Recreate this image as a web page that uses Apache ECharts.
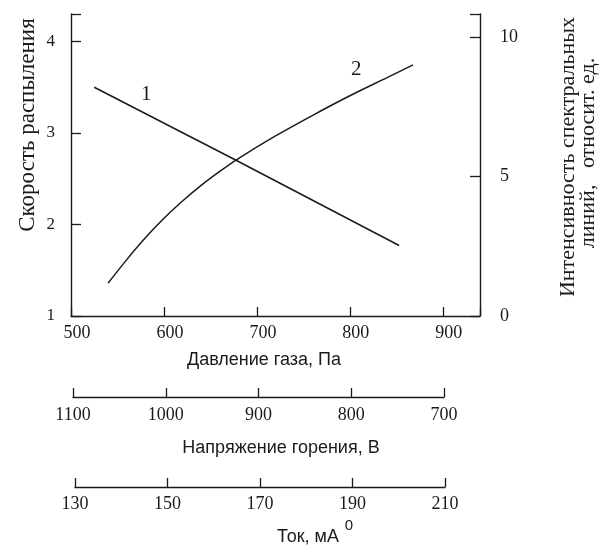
<!DOCTYPE html>
<html><head><meta charset="utf-8">
<script src="https://cdn.jsdelivr.net/npm/echarts@6/dist/echarts.min.js"></script>
<style>html,body{margin:0;padding:0;background:#fff}#c{width:605px;height:547px}</style>
</head><body><div id="c"></div>
<script>
// Curve 1: pressure (Pa) vs sputtering rate (left axis)
const curve1X = [525, 676, 853];
const curve1Y = [3.50, 2.71, 1.77];
// Curve 2: pressure (Pa) vs spectral line intensity (right axis)
const curve2X = [540, 560, 580, 600, 620, 640, 660, 680, 720, 760, 800, 840, 868];
const curve2Y = [1.18, 2.02, 2.80, 3.50, 4.12, 4.68, 5.18, 5.64, 6.45, 7.19, 7.89, 8.54, 9.0];
const pressureTicks = [500, 600, 700, 800, 900];
const voltageTicks = [1100, 1000, 900, 800, 700];
const currentTicks = [130, 150, 170, 190, 210];
const leftTicks = [1, 2, 3, 4];
const rightTicks = [0, 5, 10];

const serif = '"Liberation Serif", "DejaVu Serif", serif';
const sans = '"Liberation Sans", Arial, sans-serif';
const ink = '#1a1a1a';

const chart = echarts.init(document.getElementById('c'), null, {renderer: 'canvas'});
const axisLine = {show: true, lineStyle: {color: ink, width: 1.4}};
const tick = (len) => ({show: true, inside: true, length: len, lineStyle: {color: ink, width: 1.3}});
const lbl = (size, extra) => Object.assign({color: ink, fontFamily: serif, fontSize: size}, extra);

const option = {
  backgroundColor: '#fff',
  animation: false,
  grid: [
    {left: 71, right: 125, top: 14, bottom: 231},
    {left: 73, width: 371, top: 387, height: 10},
    {left: 75, width: 370, top: 477, height: 10}
  ],
  xAxis: [
    {gridIndex: 0, type: 'value', min: pressureTicks[0], max: 940, interval: 100,
     axisLine: axisLine, axisTick: tick(9), splitLine: {show: false},
     axisLabel: lbl(18, {margin: 8, padding: [0, 0, 0, 12], formatter: v => pressureTicks.includes(v) ? String(v) : ''})},
    {gridIndex: 1, type: 'value', inverse: true, min: voltageTicks[4], max: voltageTicks[0], interval: 100,
     axisLine: axisLine, axisTick: tick(9), splitLine: {show: false},
     axisLabel: lbl(18, {margin: 9, formatter: v => String(v)})},
    {gridIndex: 2, type: 'value', min: currentTicks[0], max: currentTicks[4], interval: 20,
     axisLine: axisLine, axisTick: tick(9), splitLine: {show: false},
     axisLabel: lbl(18, {margin: 8, formatter: v => String(v)})}
  ],
  yAxis: [
    {gridIndex: 0, type: 'value', position: 'left', min: leftTicks[0], max: 4.30, interval: 1,
     axisLine: axisLine, axisTick: tick(10), splitLine: {show: false},
     axisLabel: lbl(17, {margin: 16, padding: [0, 0, 8, 0], formatter: v => leftTicks.includes(v) ? String(v) : ''})},
    {gridIndex: 0, type: 'value', position: 'right', min: rightTicks[0], max: 10.82, interval: 5,
     axisLine: axisLine, axisTick: tick(10), splitLine: {show: false},
     axisLabel: lbl(18, {margin: 20, formatter: v => rightTicks.includes(v) ? String(v) : ''})},
    {gridIndex: 1, type: 'value', show: false, min: 0, max: 1},
    {gridIndex: 2, type: 'value', show: false, min: 0, max: 1}
  ],
  series: [
    {type: 'line', xAxisIndex: 0, yAxisIndex: 0, showSymbol: false, symbol: 'none',
     data: curve1X.map((x, i) => [x, curve1Y[i]]),
     lineStyle: {color: ink, width: 1.5},
     markPoint: {symbol: 'circle', symbolSize: 0, silent: true,
       label: {show: true, position: 'inside', formatter: '1', color: ink, fontFamily: serif, fontSize: 21},
       data: [{coord: [581, 3.42], value: 1}]}},
    {type: 'line', xAxisIndex: 0, yAxisIndex: 1, showSymbol: false, symbol: 'none', smooth: 0.3,
     data: curve2X.map((x, i) => [x, curve2Y[i]]),
     lineStyle: {color: ink, width: 1.5},
     markPoint: {symbol: 'circle', symbolSize: 0, silent: true,
       label: {show: true, position: 'inside', formatter: '2', color: ink, fontFamily: serif, fontSize: 21},
       data: [{coord: [807, 8.82], value: 2}]}}
  ],
  graphic: [
    {type: 'text', x: 28, y: 125, rotation: Math.PI / 2,
     style: {text: 'Скорость распыления', font: '23px ' + serif, fill: ink, align: 'center', verticalAlign: 'middle'}},
    {type: 'text', x: 568, y: 157, rotation: Math.PI / 2,
     style: {text: 'Интенсивность спектральных', font: '22px ' + serif, fill: ink, align: 'center', verticalAlign: 'middle'}},
    {type: 'text', x: 588, y: 153, rotation: Math.PI / 2,
     style: {text: 'линий,   относит. ед.', font: '22px ' + serif, fill: ink, align: 'center', verticalAlign: 'middle'}},
    {type: 'text', x: 264, y: 360,
     style: {text: 'Давление газа, Па', font: '18px ' + sans, fill: ink, align: 'center', verticalAlign: 'middle'}},
    {type: 'text', x: 281, y: 448,
     style: {text: 'Напряжение горения, В', font: '18px ' + sans, fill: ink, align: 'center', verticalAlign: 'middle'}},
    {type: 'text', x: 308, y: 537,
     style: {text: 'Ток, мА', font: '18px ' + sans, fill: ink, align: 'center', verticalAlign: 'middle'}},
    {type: 'text', x: 349, y: 526,
     style: {text: '0', font: '15px ' + sans, fill: ink, align: 'center', verticalAlign: 'middle'}}
  ]
};
chart.setOption(option);
</script></body></html>
